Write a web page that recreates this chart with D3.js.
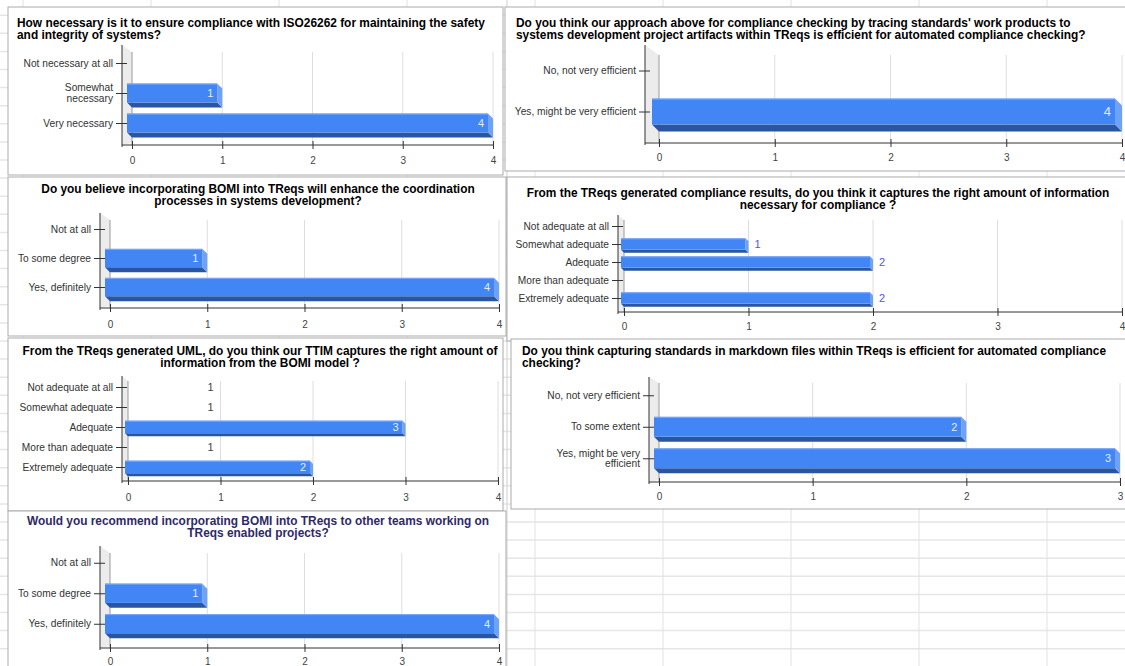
<!DOCTYPE html>
<html><head><meta charset="utf-8">
<script src="https://cdn.jsdelivr.net/npm/d3@7"></script>
<style>
body{margin:0;background:#fff;}
svg{display:block;font-family:"Liberation Sans",Arial,sans-serif;}
</style>
</head><body>
<svg id="chart" width="1125" height="666"></svg>
<script>
// ---------------- DATA ----------------
const xTicks4 = [0, 1, 2, 3, 4];
const xTicks3 = [0, 1, 2, 3];

const q1Title = ["How necessary is it to ensure compliance with ISO26262 for maintaining the safety", "and integrity of systems?"];
const q1Categories = ["Not necessary at all", "Somewhat\nnecessary", "Very necessary"];
const q1Values = [0, 1, 4];

const q2Title = ["Do you think our approach above for compliance checking by tracing standards' work products to", "systems development project artifacts within TReqs is efficient for automated compliance checking?"];
const q2Categories = ["No, not very efficient", "Yes, might be very efficient"];
const q2Values = [0, 4];

const q3Title = ["Do you believe incorporating BOMI into TReqs will enhance the coordination", "processes in systems development?"];
const q3Categories = ["Not at all", "To some degree", "Yes, definitely"];
const q3Values = [0, 1, 4];

const q4Title = ["From the TReqs generated compliance results, do you think it captures the right amount of information", "necessary for compliance ?"];
const q4Categories = ["Not adequate at all", "Somewhat adequate", "Adequate", "More than adequate", "Extremely adequate"];
const q4Values = [0, 1, 2, 0, 2];

const q5Title = ["From the TReqs generated UML, do you think our TTIM captures the right amount of", "information from the BOMI model ?"];
const q5Categories = ["Not adequate at all", "Somewhat adequate", "Adequate", "More than adequate", "Extremely adequate"];
const q5Values = [1, 1, 3, 1, 2];
const q5BarShown = [false, false, true, false, true];

const q6Title = ["Do you think capturing standards in markdown files within TReqs is efficient for automated compliance", "checking?"];
const q6Categories = ["No, not very efficient", "To some extent", "Yes, might be very\nefficient"];
const q6Values = [0, 2, 3];

const q7Title = ["Would you recommend incorporating BOMI into TReqs to other teams working on", "TReqs enabled projects?"];
const q7Categories = ["Not at all", "To some degree", "Yes, definitely"];
const q7Values = [0, 1, 4];

// ---------------- LAYOUT ----------------
const TITLE_FONT = 11.9, CAT_FONT = 10.2, TICK_FONT = 10, TITLE_LH = 11.5;
const panels = [
  {title:q1Title, cats:q1Categories, vals:q1Values, ticks:xTicks4, box:[8,7,495,168],
   tAnchor:"start", tX:17, tY0:27, tColor:"#000",
   zeroX:132, maxX:493, band:[48,138], axisTop:45, gridTop:52, axisY:145, tickY:164, labels:"inside", vFont:11},
  {title:q2Title, cats:q2Categories, vals:q2Values, ticks:xTicks4, box:[505,7,630,164],
   tAnchor:"start", tX:516, tY0:27, tColor:"#000",
   zeroX:659, maxX:1122, band:[50,132], axisTop:45, gridTop:55, axisY:143, tickY:161, labels:"inside", vFont:13},
  {title:q3Title, cats:q3Categories, vals:q3Values, ticks:xTicks4, box:[8,177,498,159],
   tAnchor:"middle", tX:258, tY0:193, tColor:"#000",
   zeroX:110, maxX:499, band:[214.5,301.5], axisTop:213, gridTop:220, axisY:308, tickY:328, labels:"inside", vFont:11},
  {title:q4Title, cats:q4Categories, vals:q4Values, ticks:xTicks4, box:[507,177,630,164],
   tAnchor:"middle", tX:818, tY0:197, tColor:"#000",
   zeroX:624, maxX:1122, band:[217,307], axisTop:215, gridTop:220, axisY:312, tickY:330, labels:"outside", vFont:11},
  {title:q5Title, cats:q5Categories, vals:q5Values, shown:q5BarShown, ticks:xTicks4, box:[8,338,495,173],
   tAnchor:"middle", tX:260, tY0:355, tColor:"#000",
   zeroX:128, maxX:498, band:[377,477], axisTop:376, gridTop:381, axisY:481, tickY:501, labels:"inside", vFont:11},
  {title:q6Title, cats:q6Categories, vals:q6Values, ticks:xTicks3, box:[511,339,630,170],
   tAnchor:"start", tX:522, tY0:355, tColor:"#000",
   zeroX:659, maxX:1120, band:[379.5,474], axisTop:377, gridTop:383, axisY:482, tickY:500, labels:"inside", vFont:11},
  {title:q7Title, cats:q7Categories, vals:q7Values, ticks:xTicks4, box:[8,511,498,170],
   tAnchor:"middle", tX:258, tY0:525, tColor:"#2e2a66",
   zeroX:110, maxX:499, band:[547.5,639], axisTop:546, gridTop:553, axisY:648, tickY:665, labels:"inside", vFont:11}
];

const svg = d3.select("#chart");

// spreadsheet background grid
const bg = svg.append("g");
const colXs = d3.range(23, 1125, 128);
const rowYs = d3.range(522 - 18.1 * 29, 666, 18.1);
bg.selectAll("line.r").data(rowYs).join("line")
  .attr("x1", 0).attr("x2", 1125).attr("y1", d => d).attr("y2", d => d)
  .attr("stroke", "#e6e6e6").attr("stroke-width", 1.5);
bg.selectAll("line.c").data(colXs).join("line")
  .attr("x1", d => d).attr("x2", d => d).attr("y1", 0).attr("y2", 666)
  .attr("stroke", "#e2e2e2").attr("stroke-width", 1);
bg.append("line").attr("x1", 507).attr("x2", 507).attr("y1", 0).attr("y2", 666).attr("stroke", "#cfcfcf");

panels.forEach(p => {
  const g = svg.append("g");
  const [bx, by, bw, bh] = p.box;
  g.append("rect").attr("x", bx).attr("y", by).attr("width", bw).attr("height", bh)
    .attr("fill", "#fff").attr("stroke", "#ababab").attr("stroke-width", 1);

  // title
  const t = g.append("text").attr("text-anchor", p.tAnchor)
    .attr("font-size", TITLE_FONT).attr("font-weight", "bold").attr("fill", p.tColor);
  p.title.forEach((line, i) => t.append("tspan").attr("x", p.tX).attr("y", p.tY0 + i * TITLE_LH).text(line));

  const maxV = d3.max(p.ticks);
  const x = d3.scaleLinear().domain([0, maxV]).range([p.zeroX, p.maxX]);
  const y = d3.scalePoint().domain(p.cats).range(p.band).padding(0.5);
  const step = y.step();
  const barH = step * 0.63;
  const depth = Math.max(3, Math.round(barH * 0.27));
  const axisX = p.zeroX - 2 * depth;

  // left 3D wall
  g.append("path")
    .attr("d", `M${axisX},${p.axisTop} L${p.zeroX},${p.gridTop} L${p.zeroX},${p.axisY - 2} L${axisX},${p.axisY} Z`)
    .attr("fill", "#ececec");

  // gridlines
  g.selectAll("line.grid").data(p.ticks).join("line")
    .attr("x1", d => x(d)).attr("x2", d => x(d))
    .attr("y1", p.gridTop).attr("y2", p.axisY)
    .attr("stroke", d => d === 0 ? "#9a9a9a" : "#dedede").attr("stroke-width", 1);

  // bottom axis via d3.axisBottom
  const ax = g.append("g").attr("transform", `translate(0,${p.axisY})`)
    .call(d3.axisBottom(x).tickValues(p.ticks).tickFormat(d3.format("d")).tickSize(4).tickSizeOuter(0));
  ax.select(".domain").remove();
  ax.selectAll(".tick line").attr("y1", -4).attr("y2", 4).attr("stroke", "#333");
  ax.selectAll(".tick text").attr("y", p.tickY - p.axisY).attr("dy", "0")
    .attr("font-size", TICK_FONT).attr("fill", "#444").attr("font-family", "Liberation Sans, Arial, sans-serif");
  g.append("line").attr("x1", axisX).attr("x2", p.maxX).attr("y1", p.axisY).attr("y2", p.axisY)
    .attr("stroke", "#333").attr("stroke-width", 1);
  // left axis (front)
  g.append("line").attr("x1", axisX).attr("x2", axisX).attr("y1", p.axisTop).attr("y2", p.axisY + 2)
    .attr("stroke", "#333").attr("stroke-width", 1);
  const ay = g.append("g").attr("transform", `translate(${axisX},0)`)
    .call(d3.axisLeft(y).tickSize(6).tickSizeOuter(0).tickFormat(""));
  ay.select(".domain").remove();
  ay.selectAll(".tick line").attr("x1", -6).attr("x2", 5).attr("stroke", "#333");

  // category labels
  p.cats.forEach(c => {
    const lines = c.split("\n");
    const tx = g.append("text").attr("text-anchor", "end").attr("font-size", CAT_FONT).attr("fill", "#333");
    lines.forEach((l, i) => tx.append("tspan").attr("x", axisX - 9)
      .attr("y", y(c) + 3.6 + (i - (lines.length - 1) / 2) * 10.5).text(l));
  });

  // bars (3D extruded)
  const data = p.cats.map((c, i) => ({c, v: p.vals[i], shown: p.shown ? p.shown[i] : p.vals[i] > 0}));
  const bars = g.selectAll("g.bar").data(data.filter(d => d.shown)).join("g");
  bars.each(function(d) {
    const b = d3.select(this);
    const fx0 = x(0) - depth, fx1 = x(d.v) - depth;
    const fy0 = y(d.c) - barH / 2, fy1 = y(d.c) + barH / 2;
    b.append("path").attr("d", `M${fx0},${fy1} L${fx1},${fy1} L${fx1 + depth},${fy1 + depth} L${fx0 + depth},${fy1 + depth} Z`)
      .attr("fill", "#2a55a2");
    b.append("path").attr("d", `M${fx1},${fy0} L${fx1 + depth},${fy0 + depth} L${fx1 + depth},${fy1 + depth} L${fx1},${fy1} Z`)
      .attr("fill", "#6ea2f6");
    b.append("rect").attr("x", fx0).attr("y", fy0).attr("width", fx1 - fx0).attr("height", barH)
      .attr("fill", "#4285f4");
    b.append("line").attr("x1", fx0).attr("x2", fx1).attr("y1", fy0 + 0.5).attr("y2", fy0 + 0.5)
      .attr("stroke", "#7fabf7").attr("stroke-width", 1);
  });

  // value labels
  data.filter(d => d.v > 0).forEach(d => {
    const fx1 = x(d.v) - depth;
    if (p.labels === "outside") {
      g.append("text").attr("x", x(d.v) + 6).attr("y", y(d.c) + p.vFont * 0.36)
        .attr("font-size", p.vFont).attr("fill", "#5252ee").text(d.v);
    } else {
      g.append("text").attr("text-anchor", "end").attr("x", fx1 - 4).attr("y", y(d.c) + p.vFont * 0.36)
        .attr("font-size", p.vFont).attr("fill", d.shown ? "#e3ecfd" : "#444").text(d.v);
    }
  });
});
</script>
</body></html>
